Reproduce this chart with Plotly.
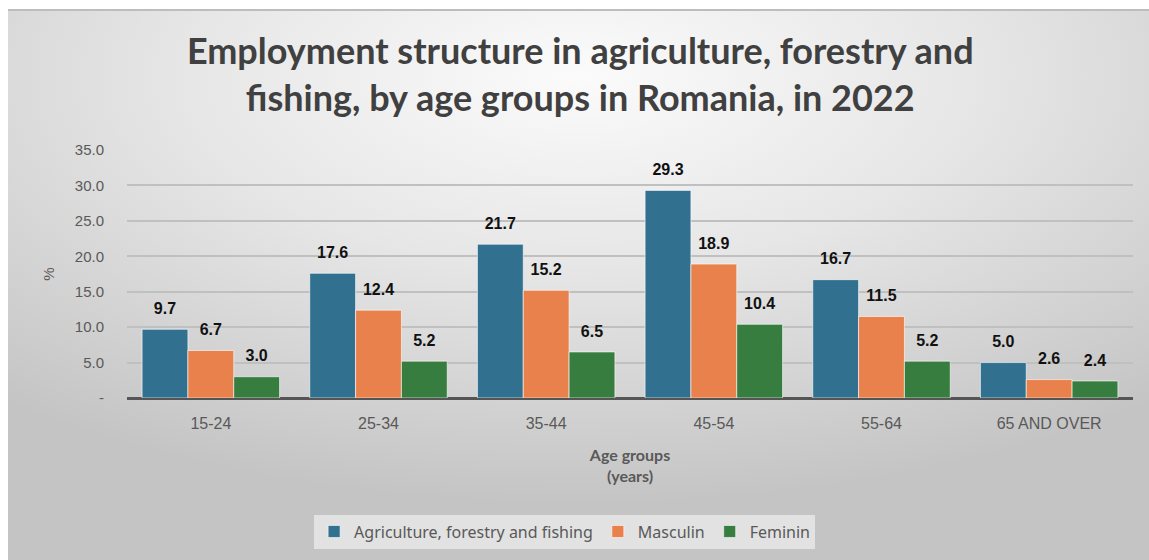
import base64
import plotly.graph_objects as go

# Employment shares (%) by age group, Romania 2022
age_groups = ["15-24", "25-34", "35-44", "45-54", "55-64", "65 AND OVER"]
total = [9.7, 17.6, 21.7, 29.3, 16.7, 5.0]
masculin = [6.7, 12.4, 15.2, 18.9, 11.5, 2.6]
feminin = [3.0, 5.2, 6.5, 10.4, 5.2, 2.4]

series_names = ["Agriculture, forestry and fishing", "Masculin", "Feminin"]
series_values = [total, masculin, feminin]
series_colors = ["#31718f", "#e8814b", "#387d40"]

y_ticks = [0, 5, 10, 15, 20, 25, 30, 35]
y_tick_text = ["-", "5.0", "10.0", "15.0", "20.0", "25.0", "30.0", "35.0"]

W, H = 1149, 560
M_L, M_R, M_T, M_B = 127, 16, 150, 162
plot_w = W - M_L - M_R
plot_h = H - M_T - M_B

# soft radial backdrop for the chart area
svg = (
    "<svg xmlns='http://www.w3.org/2000/svg' width='1141' height='550' preserveAspectRatio='none'>"
    "<defs><radialGradient id='g' cx='50%' cy='12%' r='78%' fx='50%' fy='12%'>"
    "<stop offset='0%' stop-color='#fbfbfb'/>"
    "<stop offset='45%' stop-color='#e6e6e6'/>"
    "<stop offset='100%' stop-color='#c4c4c4'/>"
    "</radialGradient></defs>"
    "<rect width='1141' height='550' fill='url(#g)'/></svg>"
)
bg_src = "data:image/svg+xml;base64," + base64.b64encode(svg.encode()).decode()

fig = go.Figure()
for name, vals, col in zip(series_names, series_values, series_colors):
    fig.add_trace(go.Bar(
        x=age_groups, y=vals, name=name,
        marker=dict(color=col, line=dict(color="rgba(255,255,255,0.6)", width=1)),
        text=vals,
        # value label, with a short spacer line underneath to lift it off the bar
        texttemplate="<span style='font-size:16px'>%{y:.1f}</span><br> ",
        textposition="outside",
        textfont=dict(family="Liberation Sans, Arial, sans-serif", size=8,
                      color="#111111", weight="bold"),
        constraintext="none",
        cliponaxis=False,
    ))

left_edge = 8
top_edge = 10
fig.add_layout_image(dict(
    source=bg_src, xref="paper", yref="paper",
    x=-(M_L - left_edge) / plot_w, y=1 + (M_T - top_edge) / plot_h,
    sizex=(W - left_edge) / plot_w, sizey=(H - top_edge) / plot_h,
    xanchor="left", yanchor="top", sizing="stretch", layer="below",
))

fig.update_layout(
    width=W, height=H,
    margin=dict(l=M_L, r=M_R, t=M_T, b=M_B),
    paper_bgcolor="white", plot_bgcolor="rgba(0,0,0,0)",
    barmode="group", bargap=0.18, bargroupgap=0,
    title=dict(
        text="Employment structure in agriculture, forestry and<br>fishing, by age groups in Romania, in 2022",
        x=0.505, xanchor="center", y=0.885, yanchor="top",
        font=dict(family="Lato, Noto Sans, sans-serif", size=36, color="#404040", weight="bold"),
    ),
    xaxis=dict(
        showgrid=False, ticks="", showline=False, ticklabelstandoff=14,
        tickfont=dict(family="Liberation Sans, Arial, sans-serif", size=16, color="#595959"),
        title=dict(text="Age groups<br>(years)", standoff=18,
                   font=dict(family="Lato, Noto Sans, sans-serif", size=16, color="#595959", weight="bold")),
    ),
    yaxis=dict(
        range=[0, 35], tickvals=y_ticks, ticktext=y_tick_text,
        showgrid=True, gridcolor="#c0c0c0", gridwidth=1.5,
        zeroline=True, zerolinecolor="#555555", zerolinewidth=2.5,
        ticks="", ticklabelstandoff=22,
        tickfont=dict(family="Liberation Sans, Arial, sans-serif", size=15, color="#595959"),
        title=dict(text="%", standoff=16,
                   font=dict(family="Liberation Sans, Arial, sans-serif", size=15, color="#595959")),
    ),
    legend=dict(
        orientation="h", x=0.435, xanchor="center", y=-0.47, yanchor="top",
        bgcolor="rgba(240,240,240,0.7)",
        font=dict(family="Noto Sans, Lato, sans-serif", size=16, color="#595959"),
        traceorder="normal",
    ),
    showlegend=True,
)

# thin frame along the top of the chart
fig.add_shape(type="line", xref="paper", yref="paper",
              x0=-(M_L - left_edge) / plot_w, x1=1 + M_R / plot_w,
              y0=1 + (M_T - top_edge) / plot_h, y1=1 + (M_T - top_edge) / plot_h,
              line=dict(color="#bdbdbd", width=2))

fig.write_html("out.html")
